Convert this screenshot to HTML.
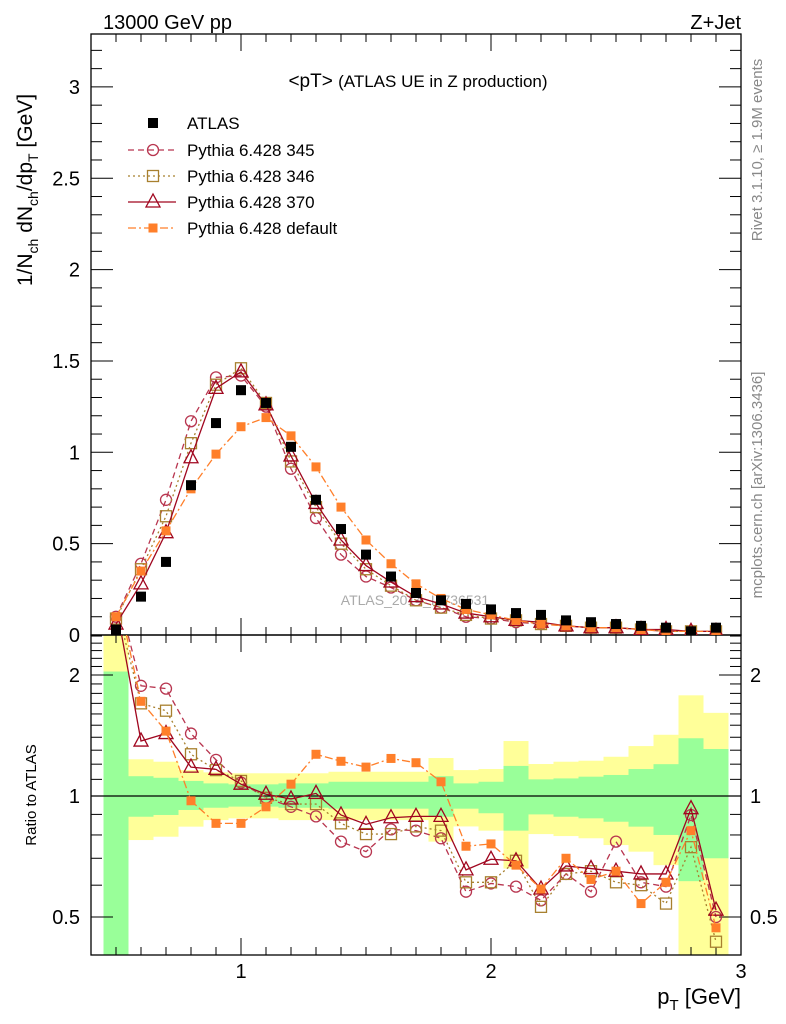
<!DOCTYPE html>
<html><head><meta charset="utf-8"><style>
body{margin:0;background:#fff;}
svg{display:block;font-family:"Liberation Sans",sans-serif;}
</style></head><body>
<svg id="chart" width="786" height="1024" viewBox="0 0 786 1024" xmlns="http://www.w3.org/2000/svg">
<defs>
<clipPath id="clipMain"><rect x="91" y="34" width="650" height="601"/></clipPath>
<clipPath id="clipRatio"><rect x="91" y="635" width="650" height="320"/></clipPath>
</defs>
<g id="bands" clip-path="url(#clipRatio)"></g>
<g id="axes"></g>
<text x="103" y="29" font-size="20">13000 GeV pp</text>
<text x="741" y="29" font-size="20" text-anchor="end">Z+Jet</text>
<text x="418" y="87" font-size="19" text-anchor="middle">&lt;pT&gt; <tspan font-size="17">(ATLAS UE in Z production)</tspan></text>
<text x="415" y="605" font-size="14" fill="#aaa" text-anchor="middle">ATLAS_2014_I1736531</text>
<text transform="translate(762,150) rotate(-90)" font-size="15" fill="#888" text-anchor="middle">Rivet 3.1.10, ≥ 1.9M events</text>
<text transform="translate(762,485) rotate(-90)" font-size="15" fill="#888" text-anchor="middle">mcplots.cern.ch [arXiv:1306.3436]</text>
<text transform="translate(32,190) rotate(-90)" font-size="21" text-anchor="middle">1/N<tspan font-size="14" dy="6">ch</tspan><tspan dy="-6"> dN</tspan><tspan font-size="14" dy="6">ch</tspan><tspan dy="-6">/dp</tspan><tspan font-size="14" dy="6">T</tspan><tspan dy="-6"> [GeV]</tspan></text>
<text transform="translate(36,795) rotate(-90)" font-size="15" text-anchor="middle">Ratio to ATLAS</text>
<text x="741" y="1004" font-size="22" text-anchor="end">p<tspan font-size="15" dy="6">T</tspan><tspan dy="-6"> [GeV]</tspan></text>
<g id="series"></g>
<g id="legend"></g>
</svg>
<script>
const bins = [0.5,0.6,0.7,0.8,0.9,1.0,1.1,1.2,1.3,1.4,1.5,1.6,1.7,1.8,1.9,2.0,2.1,2.2,2.3,2.4,2.5,2.6,2.7,2.8,2.9];
const atlas = [0.03,0.21,0.40,0.82,1.16,1.34,1.27,1.03,0.74,0.58,0.44,0.32,0.23,0.19,0.17,0.14,0.12,0.11,0.08,0.07,0.06,0.05,0.04,0.02,0.04];
const main345 = [0.10,0.39,0.74,1.17,1.41,1.42,1.25,0.91,0.64,0.44,0.32,0.26,0.19,0.15,0.10,0.09,0.07,0.06,0.05,0.04,0.04,0.03,0.02,0.02,0.02];
const main346 = [0.09,0.36,0.65,1.05,1.37,1.46,1.27,0.95,0.70,0.50,0.36,0.27,0.19,0.15,0.11,0.09,0.08,0.06,0.05,0.04,0.04,0.03,0.02,0.02,0.02];
const main370 = [0.06,0.28,0.56,0.97,1.35,1.44,1.26,0.98,0.72,0.52,0.38,0.29,0.21,0.17,0.12,0.10,0.08,0.07,0.05,0.04,0.04,0.03,0.03,0.02,0.02];
const mainDef = [0.10,0.35,0.57,0.80,0.99,1.14,1.19,1.09,0.92,0.70,0.52,0.39,0.28,0.20,0.14,0.11,0.08,0.06,0.05,0.04,0.04,0.03,0.02,0.02,0.02];
const ratio345 = [3.3,1.88,1.85,1.43,1.23,1.08,0.99,0.94,0.89,0.77,0.727,0.826,0.82,0.785,0.578,0.606,0.595,0.55,0.64,0.578,0.77,0.61,0.595,0.897,0.50];
const ratio346 = [3.0,1.70,1.63,1.27,1.16,1.09,0.99,0.955,0.955,0.855,0.804,0.804,0.84,0.82,0.61,0.61,0.69,0.53,0.64,0.65,0.61,0.60,0.54,0.746,0.434];
const ratio370 = [3.0,1.37,1.43,1.18,1.165,1.07,1.01,0.983,1.015,0.897,0.85,0.883,0.89,0.89,0.655,0.696,0.69,0.587,0.67,0.66,0.65,0.64,0.64,0.93,0.52];
const ratioDef = [3.3,1.72,1.45,0.973,0.855,0.855,0.94,1.07,1.27,1.22,1.18,1.24,1.21,1.085,0.75,0.76,0.673,0.587,0.70,0.62,0.65,0.54,0.61,0.82,0.47];
const yellowHi = [3.0,1.234,1.217,1.16,1.145,1.139,1.139,1.139,1.139,1.149,1.149,1.149,1.149,1.243,1.16,1.167,1.37,1.201,1.217,1.224,1.252,1.331,1.42,1.78,1.61];
const greenHi = [2.04,1.12,1.11,1.09,1.075,1.069,1.069,1.075,1.075,1.085,1.085,1.085,1.085,1.12,1.075,1.085,1.188,1.10,1.106,1.117,1.128,1.167,1.20,1.392,1.309];
const greenLo = [0.30,0.888,0.897,0.923,0.935,0.941,0.941,0.935,0.935,0.93,0.93,0.93,0.93,0.888,0.93,0.906,0.82,0.90,0.888,0.88,0.863,0.839,0.80,0.614,0.70];
const yellowLo = [0.30,0.777,0.792,0.839,0.871,0.88,0.88,0.871,0.871,0.871,0.871,0.871,0.871,0.77,0.84,0.82,0.66,0.804,0.795,0.785,0.755,0.727,0.673,0.30,0.30];
const yTicksMain = [0,0.5,1,1.5,2,2.5,3];
const yTickLabelsMain = ["0","0.5","1","1.5","2","2.5","3"];
const xTicks = [1,2,3];
const xTickLabels = ["1","2","3"];
const rTicks = [0.5,1,2];
const rTickLabels = ["0.5","1","2"];

const NS="http://www.w3.org/2000/svg";
const X0=91,X1=741,Y0=34,YM=635,YR=955;
const sx=v=>X0+(v-0.4)*250;
const sy=v=>YM-v*182.7;
const sr=v=>796-Math.log10(v)*402;
function mk(tag,attrs,parent){const e=document.createElementNS(NS,tag);for(const k in attrs)e.setAttribute(k,attrs[k]);parent.appendChild(e);return e;}
const axes=document.getElementById('axes'),bands=document.getElementById('bands'),series=document.getElementById('series'),legend=document.getElementById('legend');

bins.forEach((b,i)=>{
  const xa=sx(b-0.05),xb=sx(b+0.05);
  const y=mk('rect',{x:xa,y:sr(yellowHi[i]),width:xb-xa,height:sr(yellowLo[i])-sr(yellowHi[i]),fill:'#ffff99'},bands);
  
  
  const g=mk('rect',{x:xa,y:sr(greenHi[i]),width:xb-xa,height:sr(greenLo[i])-sr(greenHi[i]),fill:'#99ff99'},bands);
  
  
});
mk('line',{x1:X0,x2:X1,y1:sr(1),y2:sr(1),stroke:'#000','stroke-width':1.3},axes);

mk('rect',{x:X0,y:Y0,width:X1-X0,height:YM-Y0,fill:'none',stroke:'#000','stroke-width':1.3},axes);
mk('rect',{x:X0,y:YM,width:X1-X0,height:YR-YM,fill:'none',stroke:'#000','stroke-width':1.3},axes);

for(let k=4;k<=30;k++){
  const v=k/10,x=sx(v),maj=(k%10===0);const L=maj?17:8;
  [[Y0,1],[YM,-1],[YM,1],[YR,-1]].forEach(([y0,d])=>mk('line',{x1:x,x2:x,y1:y0,y2:y0+d*L,stroke:'#000','stroke-width':1},axes));
}
xTicks.forEach((v,i)=>{const t=mk('text',{x:sx(v),y:978,'font-size':20,'text-anchor':'middle'},axes);t.textContent=xTickLabels[i];
 
 });
for(let k=0;k<=32;k++){
  const v=k/10,y=sy(v),maj=(k%5===0);const L=maj?22:11;
  mk('line',{x1:X0,x2:X0+L,y1:y,y2:y,stroke:'#000','stroke-width':1},axes);
  mk('line',{x1:X1,x2:X1-L,y1:y,y2:y,stroke:'#000','stroke-width':1},axes);
}
yTicksMain.forEach((v,i)=>{const t=mk('text',{x:80,y:sy(v)+7,'font-size':20,'text-anchor':'end'},axes);t.textContent=yTickLabelsMain[i];
 
 });
for(let k=4;k<=25;k++){
  const v=k/10; const maj=(k===5||k===10||k===20); const L=maj?22:11;
  const y=sr(v); if(y<YM||y>YR) continue;
  mk('line',{x1:X0,x2:X0+L,y1:y,y2:y,stroke:'#000','stroke-width':1},axes);
  mk('line',{x1:X1,x2:X1-L,y1:y,y2:y,stroke:'#000','stroke-width':1},axes);
}
rTicks.forEach((v,i)=>{
 const t=mk('text',{x:80,y:sr(v)+7,'font-size':20,'text-anchor':'end'},axes);t.textContent=rTickLabels[i];
 
 
 const t2=mk('text',{x:750,y:sr(v)+7,'font-size':20,'text-anchor':'start'},axes);t2.textContent=rTickLabels[i];
 
 
});

function marker(parent,type,x,y,color){
  if(type==='circle') return mk('circle',{cx:x,cy:y,r:5.5,fill:'none',stroke:color,'stroke-width':1.3},parent);
  if(type==='osquare') return mk('rect',{x:x-5.5,y:y-5.5,width:11,height:11,fill:'none',stroke:color,'stroke-width':1.3},parent);
  if(type==='tri') return mk('polygon',{points:`${x},${y-8} ${x-7},${y+5} ${x+7},${y+5}`,fill:'none',stroke:color,'stroke-width':1.3},parent);
  if(type==='fsquare') return mk('rect',{x:x-4.5,y:y-4.5,width:9,height:9,fill:color},parent);
  if(type==='black') return mk('rect',{x:x-5,y:y-5,width:10,height:10,fill:'#000'},parent);
}
const mcs=[
 {name:'pythia-345',main:main345,ratio:ratio345,color:'#b8354f',dash:'6,4',m:'circle',label:'Pythia 6.428 345'},
 {name:'pythia-346',main:main346,ratio:ratio346,color:'#a8802f',dash:'2,3',m:'osquare',label:'Pythia 6.428 346'},
 {name:'pythia-370',main:main370,ratio:ratio370,color:'#a0061f',dash:'',m:'tri',label:'Pythia 6.428 370'},
 {name:'pythia-default',main:mainDef,ratio:ratioDef,color:'#ff7f2a',dash:'8,3,2,3',m:'fsquare',label:'Pythia 6.428 default'}
];
mcs.forEach(s=>{
  const gm=mk('g',{'clip-path':'url(#clipMain)'},series);
  
  
  mk('polyline',{points:bins.map((b,i)=>sx(b)+','+sy(s.main[i])).join(' '),fill:'none',stroke:s.color,'stroke-width':1.3,'stroke-dasharray':s.dash},gm);
  bins.forEach((b,i)=>{const e=marker(gm,s.m,sx(b),sy(s.main[i]),s.color);
    
    });
  const gr=mk('g',{'clip-path':'url(#clipRatio)'},series);
  
  
  mk('polyline',{points:bins.map((b,i)=>sx(b)+','+sr(s.ratio[i])).join(' '),fill:'none',stroke:s.color,'stroke-width':1.3,'stroke-dasharray':s.dash},gr);
  bins.forEach((b,i)=>{const e=marker(gr,s.m,sx(b),sr(s.ratio[i]),s.color);
    
    });
});
const ga=mk('g',{'clip-path':'url(#clipMain)'},series);


bins.forEach((b,i)=>{const e=marker(ga,'black',sx(b),sy(atlas[i]));
  
  });

const ly=[123,150,176,202,228];
const le0=mk('g',{},legend);


marker(le0,'black',153,ly[0]);
let t=mk('text',{x:187,y:ly[0]+6,'font-size':17},le0);t.textContent='ATLAS';
mcs.forEach((s,i)=>{
  const g=mk('g',{},legend);
  
  
  const y=ly[i+1];
  mk('line',{x1:128,x2:176,y1:y,y2:y,stroke:s.color,'stroke-width':1.3,'stroke-dasharray':s.dash},g);
  marker(g,s.m,153,y,s.color);
  const tt=mk('text',{x:187,y:y+6,'font-size':17},g);tt.textContent=s.label;
});
</script>
</body></html>
